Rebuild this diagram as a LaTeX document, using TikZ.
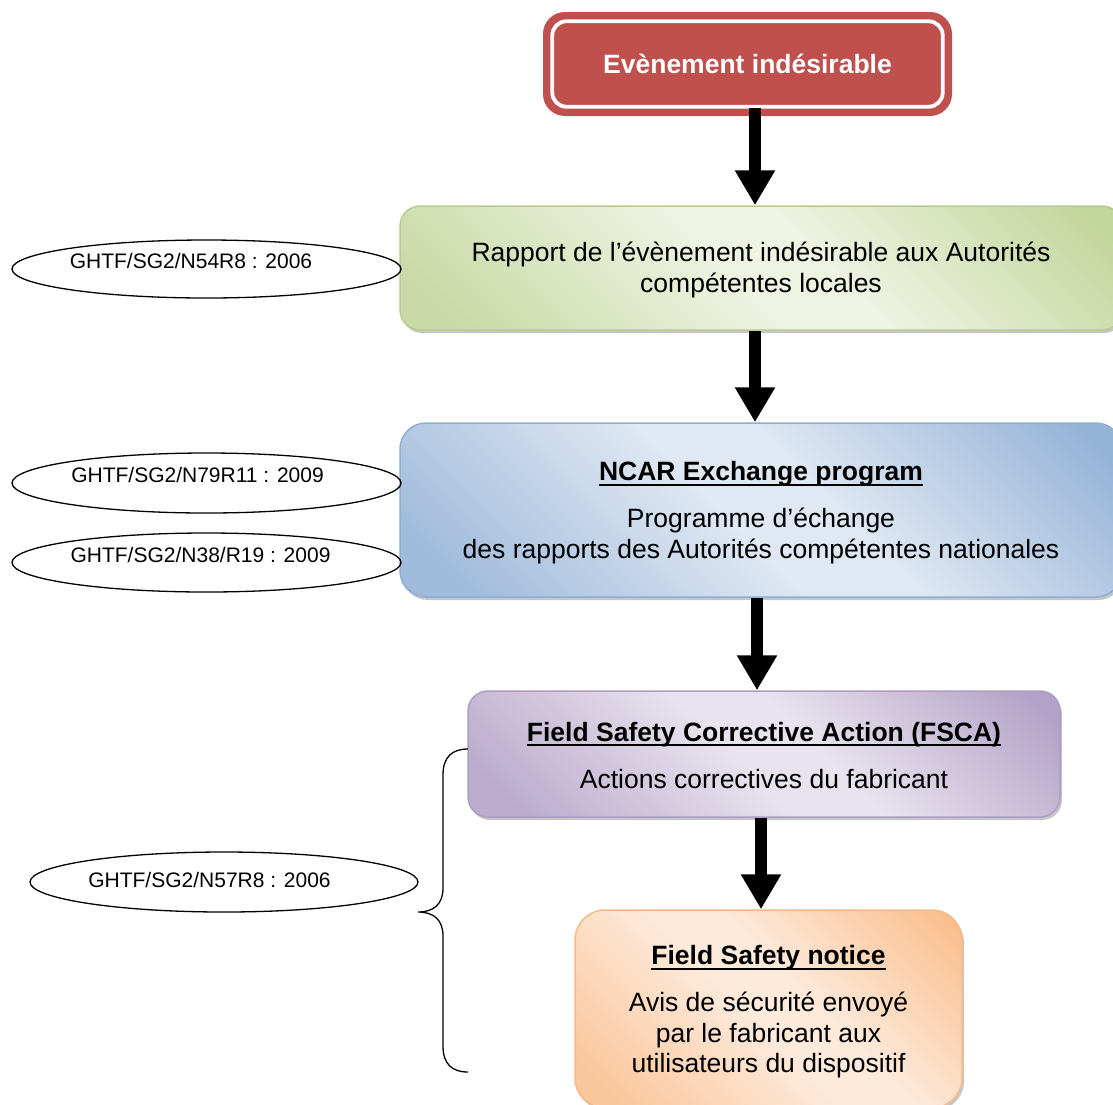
\documentclass[tikz,border=0pt]{standalone}
\usepackage{fontspec}
\setmainfont{Liberation Sans}
\usetikzlibrary{arrows.meta,shapes.geometric,shadows}

\definecolor{redfill}{HTML}{C0504D}
\definecolor{glt}{HTML}{EEF3E2}
\definecolor{gdk}{HTML}{C3D69B}
\definecolor{gbd}{HTML}{B8CC92}
\definecolor{blt}{HTML}{DFE8F3}
\definecolor{bdk}{HTML}{95B3D7}
\definecolor{bbd}{HTML}{8FAED3}
\definecolor{plt}{HTML}{E8E3EE}
\definecolor{pdk}{HTML}{B3A2C7}
\definecolor{pbd}{HTML}{AE9DC3}
\definecolor{olt}{HTML}{FDEADB}
\definecolor{odk}{HTML}{FAC090}
\definecolor{obd}{HTML}{F7BA88}

\pgfdeclarehorizontalshading{greensh}{100bp}{color(0bp)=(gdk!85!glt); color(20bp)=(gdk!85!glt); color(47bp)=(glt); color(56bp)=(glt); color(82bp)=(gdk); color(100bp)=(gdk)}
\pgfdeclarehorizontalshading{bluesh}{100bp}{color(0bp)=(bdk!85!blt); color(20bp)=(bdk!85!blt); color(47bp)=(blt); color(56bp)=(blt); color(82bp)=(bdk); color(100bp)=(bdk)}
\pgfdeclarehorizontalshading{purplesh}{100bp}{color(0bp)=(pdk!85!plt); color(20bp)=(pdk!85!plt); color(47bp)=(plt); color(56bp)=(plt); color(82bp)=(pdk); color(100bp)=(pdk)}
\pgfdeclarehorizontalshading{orangesh}{100bp}{color(0bp)=(odk!85!olt); color(20bp)=(odk!85!olt); color(47bp)=(olt); color(56bp)=(olt); color(82bp)=(odk); color(100bp)=(odk)}

\newsavebox\ulbox
\newcommand{\ulb}[1]{\sbox\ulbox{\bfseries #1}\rlap{\vrule width\wd\ulbox height -3pt depth 5pt}\usebox\ulbox}

\tikzset{
  bigtext/.style={font=\fontsize{26.5}{30.5}\selectfont, align=center, inner sep=0pt},
  smalltext/.style={font=\fontsize{21}{25}\selectfont, inner sep=0pt, anchor=base},
  flowbox/.style={rounded corners=#1, inner sep=0pt, line width=1.5pt,
    general shadow={fill=black!50, opacity=0.45, shadow xshift=2pt, shadow yshift=-3pt}},
  refell/.style={ellipse, draw=black, line width=1.3pt, inner sep=0pt},
  bigarrow/.style={line width=12pt, draw=black, -{Triangle[length=35pt,width=38pt]}},
  bracestyle/.style={draw=black, line width=1.3pt},
}

\begin{document}
\begin{tikzpicture}[x=1pt,y=-1pt]
\useasboundingbox (0,0) rectangle (1113,1104);
\clip (0,0) rectangle (1113,1104);

% top red box
\node[fill=redfill, rounded corners=22pt, minimum width=409pt, minimum height=104pt, inner sep=0pt,
  text=white, font=\fontsize{26.5}{30.5}\selectfont\bfseries] (red) at (747.5,64) {Evènement indésirable};
\draw[white, line width=3.8pt, rounded corners=14pt] ([shift={(9.5,9.5)}]red.north west) rectangle ([shift={(-9.5,-9.5)}]red.south east);

% green box
\node[flowbox=20pt, shading=greensh, shading angle=45, draw=gbd, minimum width=722pt, minimum height=124pt] (green) at (761,268) {};
\node[bigtext] (greentxt) at ([yshift=-2pt]green.center)
  {Rapport de l’évènement indésirable aux Autorités\\compétentes locales};

% blue box
\node[flowbox=26pt, shading=bluesh, shading angle=45, draw=bbd, minimum width=722pt, minimum height=174pt] (blue) at (761,510) {};
\node[bigtext] (bluetxt) at ([yshift=-2.5pt]blue.center)
  {\ulb{NCAR Exchange program}\\[16.5pt]Programme d’échange\\des rapports des Autorités compétentes nationales};

% purple box
\node[flowbox=20pt, shading=purplesh, shading angle=45, draw=pbd, minimum width=592pt, minimum height=126pt] (purple) at (764,754) {};
\node[bigtext] (purpletxt) at ([yshift=-1.5pt]purple.center)
  {\ulb{Field Safety Corrective Action (FSCA)}\\[16.5pt]Actions correctives du fabricant};

% orange box
\node[flowbox=30pt, shading=orangesh, shading angle=45, draw=obd, minimum width=387pt, minimum height=198pt] (orange) at (768.5,1009) {};
\node[bigtext] (orangetxt) at ([yshift=-3pt]orange.center)
  {\ulb{Field Safety notice}\\[16.5pt]Avis de sécurité envoyé\\par le fabricant aux\\utilisateurs du dispositif};

% arrows
\coordinate (ax1) at (755,0);
\coordinate (ax2) at (755,0);
\coordinate (ax3) at (757,0);
\coordinate (ax4) at (761,0);
\draw[bigarrow] ([yshift=8pt]red.south -| ax1) -- (green.north -| ax1);
\draw[bigarrow] (green.south -| ax2) -- (blue.north -| ax2);
\draw[bigarrow] (blue.south -| ax3) -- (purple.north -| ax3);
\draw[bigarrow] (purple.south -| ax4) -- (orange.north -| ax4);

% reference ellipses
\node[refell, minimum width=389pt, minimum height=58pt] (e1) at (206.5,269) {};
\node[smalltext] (t1) at (191,268.5) {GHTF/SG2/N54R8 : 2006};
\node[refell, minimum width=389pt, minimum height=60pt] (e2) at (206.5,483) {};
\node[smalltext] (t2) at (197.5,482.5) {GHTF/SG2/N79R11 : 2009};
\node[refell, minimum width=389pt, minimum height=59pt] (e3) at (206.5,562.5) {};
\node[smalltext] (t3) at (200.5,562.5) {GHTF/SG2/N38/R19 : 2009};
\node[refell, minimum width=388pt, minimum height=60pt] (e4) at (224,882) {};
\node[smalltext] (t4) at (209.5,887.5) {GHTF/SG2/N57R8 : 2006};

% brace
\coordinate (btop) at (468,749);
\coordinate (btip) at (418,912);
\coordinate (bbot) at (468,1072);
\draw[bracestyle] (btop) .. controls (452,749) and (443,757) .. (443,775) -- (443,888)
  .. controls (443,904) and (434,912) .. (btip)
  .. controls (434,912) and (443,920) .. (443,936) -- (443,1046)
  .. controls (443,1064) and (452,1072) .. (bbot);
\end{tikzpicture}
\end{document}
